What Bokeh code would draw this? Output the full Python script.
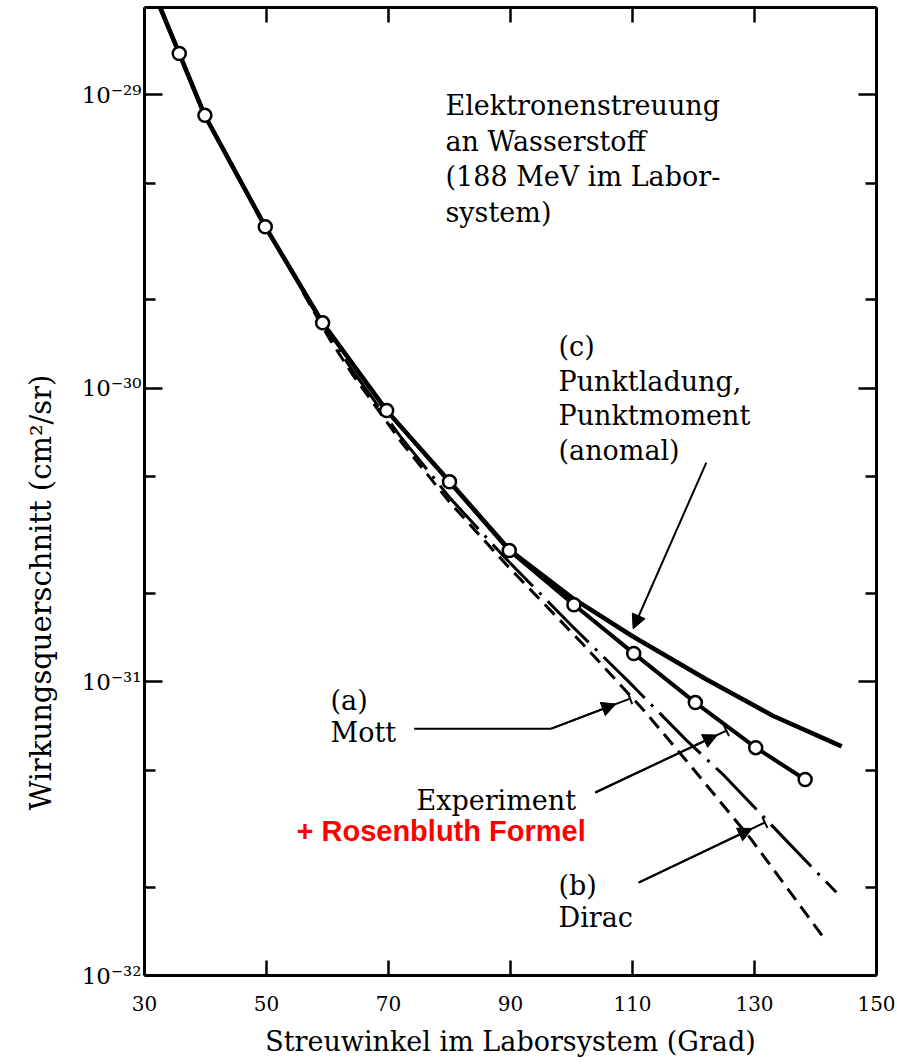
import math
from bokeh.plotting import figure
from bokeh.models import (FixedTicker, LinearAxis, LogAxis, Label, Arrow, Title,
                          NormalHead, TeeHead, CustomJSTickFormatter)
from bokeh.embed import file_html
from bokeh.resources import INLINE

# ---------------- data ----------------
x_ticks = [30, 50, 70, 90, 110, 130, 150]
y_major = [1e-32, 1e-31, 1e-30, 1e-29]
y_minor = [2e-32, 5e-32, 2e-31, 5e-31, 2e-30, 5e-30]

# measured points (open circles)
theta_exp = [35.7, 39.9, 49.8, 59.2, 69.7, 80.0, 89.8, 100.4, 110.2, 120.3, 130.2, 138.3]
sigma_exp = [1.38e-29, 8.5e-30, 3.55e-30, 1.67e-30, 8.4e-31, 4.8e-31, 2.8e-31,
             1.83e-31, 1.25e-31, 8.5e-32, 5.97e-32, 4.65e-32]

# experiment curve (Rosenbluth fit) through the points
theta_fit = [32.0, 35.7, 39.9, 49.8, 59.2, 69.7, 80.0, 89.8, 100.4, 110.2, 120.3, 130.2, 138.3]
sigma_fit = [2.1e-29, 1.38e-29, 8.5e-30, 3.55e-30, 1.67e-30, 8.4e-31, 4.8e-31, 2.8e-31,
             1.83e-31, 1.25e-31, 8.5e-32, 5.97e-32, 4.65e-32]

# (c) point charge, point moment (anomalous)
theta_c = [32.0, 35.7, 39.9, 49.8, 59.2, 69.7, 80.0, 89.8, 100.0, 110.0, 122.0, 133.0, 144.3]
sigma_c = [2.12e-29, 1.38e-29, 8.47e-30, 3.55e-30, 1.67e-30, 8.39e-31, 4.81e-31, 2.82e-31,
           1.94e-31, 1.43e-31, 1.023e-31, 7.67e-32, 6.03e-32]

# (a) Mott
theta_mott = [56.0, 60.3, 64.0, 71.9, 80.2, 89.3, 101.8, 111.9, 118.9, 129.4, 141.7]
sigma_mott = [2.118e-30, 1.476e-30, 1.122e-30, 6.64e-31, 4.05e-31, 2.51e-31, 1.349e-31,
              7.98e-32, 5.37e-32, 2.92e-32, 1.315e-32]

# (b) Dirac
theta_dirac = [56.0, 60.3, 64.0, 71.9, 80.2, 89.3, 100.0, 109.4, 118.9, 125.0, 135.5, 143.4]
sigma_dirac = [2.118e-30, 1.521e-30, 1.156e-30, 6.87e-31, 4.20e-31, 2.62e-31, 1.556e-31,
               1.0e-31, 6.31e-32, 4.80e-32, 2.84e-32, 1.92e-32]

# annotation pointers (start -> tip), data units
arrow_c_x = [122.1, 110.1]
arrow_c_y = [5.58e-31, 1.517e-31]
arrow_mott_x = [74.2, 96.7, 109.6]
arrow_mott_y = [6.93e-32, 6.93e-32, 8.77e-32]
arrow_exp_x = [103.9, 125.4]
arrow_exp_y = [4.20e-32, 6.82e-32]
arrow_dirac_x = [111.0, 131.7]
arrow_dirac_y = [2.07e-32, 3.32e-32]

# ---------------- figure ----------------
SERIF = "DejaVu Serif"

p = figure(width=897, height=1064, x_range=(30, 150), y_range=(1e-32, 1.98e-29),
           y_axis_type="log", output_backend="svg", toolbar_location=None,
           min_border_left=141, min_border_right=21, min_border_top=7, min_border_bottom=89,
           background_fill_color="white", border_fill_color="white")
p.outline_line_color = None
p.xgrid.visible = False
p.ygrid.visible = False

sup_code = """
const e = Math.round(Math.log10(tick));
const sup = {"-":"\u207b","0":"\u2070","1":"\u00b9","2":"\u00b2","3":"\u00b3","4":"\u2074",
             "5":"\u2075","6":"\u2076","7":"\u2077","8":"\u2078","9":"\u2079"};
return "10" + String(e).split("").map(c => sup[c]).join("");
"""
blank = CustomJSTickFormatter(code="return '';")


def style_axis(ax, tick_in, minor_in):
    ax.axis_line_width = 3
    ax.axis_line_color = "black"
    ax.major_tick_in = tick_in
    ax.major_tick_out = 0
    ax.minor_tick_in = minor_in
    ax.minor_tick_out = 0
    ax.major_tick_line_width = 2.5
    ax.minor_tick_line_width = 2.5
    ax.major_label_text_font = SERIF
    ax.major_label_text_color = "black"


xt = FixedTicker(ticks=x_ticks, minor_ticks=[])
yt = FixedTicker(ticks=y_major, minor_ticks=y_minor)

xb = p.xaxis[0]
xb.ticker = xt
style_axis(xb, 15, 0)
xb.major_label_text_font_size = "20px"
xb.major_label_standoff = 20
xb.axis_label = "Streuwinkel im Laborsystem (Grad)"
xb.axis_label_text_font = SERIF
xb.axis_label_text_font_size = "27px"
xb.axis_label_text_font_style = "normal"
xb.axis_label_text_color = "black"
xb.axis_label_standoff = 12

yl = p.yaxis[0]
yl.ticker = yt
style_axis(yl, 18, 11)
yl.formatter = CustomJSTickFormatter(code=sup_code)
yl.major_label_text_font_size = "23px"
yl.major_label_standoff = 3

xtop = LinearAxis(ticker=xt, formatter=blank)
style_axis(xtop, 15, 0)
xtop.major_label_standoff = 0
xtop.major_label_text_font_size = "1px"
p.add_layout(xtop, "above")

yr = LogAxis(ticker=yt, formatter=blank)
style_axis(yr, 18, 11)
yr.major_label_standoff = 0
yr.major_label_text_font_size = "1px"
p.add_layout(yr, "right")

# y-axis title (placed lower than the frame centre, as in the original)
ytitle = Title(text="Wirkungsquerschnitt (cm\u00b2/sr)", align="left", offset=165,
               text_font=SERIF, text_font_size="29px", text_font_style="normal",
               text_color="black", standoff=42)
p.add_layout(ytitle, "left")

# ---------------- curves ----------------
p.line(theta_c, sigma_c, line_width=4.5, color="black")
p.line(theta_fit, sigma_fit, line_width=4, color="black")
p.line(theta_mott, sigma_mott, line_width=3, color="black", line_dash="14 8")
p.line(theta_dirac, sigma_dirac, line_width=3, color="black", line_dash="58 9 3 9")
p.scatter(theta_exp, sigma_exp, marker="circle", size=13, fill_color="white",
          line_color="black", line_width=2.5)

# ---------------- pointers ----------------
def interp(xs, ys, f):
    xm = xs[0] + f * (xs[1] - xs[0])
    ym = 10 ** (math.log10(ys[0]) + f * (math.log10(ys[1]) - math.log10(ys[0])))
    return xm, ym


def pointer(xs, ys, frac, tee=True):
    if tee:
        p.add_layout(Arrow(end=TeeHead(size=12, line_width=2, line_color="black"),
                           x_start=xs[0], y_start=ys[0], x_end=xs[1], y_end=ys[1],
                           line_width=2, line_color="black"))
    xm, ym = interp(xs, ys, frac)
    p.add_layout(Arrow(end=NormalHead(size=14, fill_color="black", line_color="black"),
                       x_start=xs[0], y_start=ys[0], x_end=xm, y_end=ym,
                       line_width=2, line_color="black"))


pointer(arrow_c_x, arrow_c_y, 1.0, tee=False)
p.line(arrow_mott_x[:2], arrow_mott_y[:2], line_width=2, color="black")
pointer(arrow_mott_x[1:], arrow_mott_y[1:], 0.82)
pointer(arrow_exp_x, arrow_exp_y, 0.93)
pointer(arrow_dirac_x, arrow_dirac_y, 0.9)

# ---------------- texts (screen px from frame's bottom-left) ----------------
def txt(s, x, y, size="27px", font=SERIF, color="black", style="normal", **kw):
    p.add_layout(Label(x=x, y=y, x_units="screen", y_units="screen", text=s,
                       text_font=font, text_font_size=size, text_color=color,
                       text_font_style=style, text_baseline="alphabetic", **kw))


for i, line in enumerate(["Elektronenstreuung", "an Wasserstoff",
                          "(188 MeV im Labor-", "system)"]):
    txt(line, 301, 870 - 35.5 * i)

for i, line in enumerate(["(c)", "Punktladung,", "Punktmoment", "(anomal)"]):
    txt(line, 414, 629 - 34.5 * i)

txt("(a)", 186, 275)
txt("Mott", 186, 243)
txt("Experiment", 272, 175)
txt("+ Rosenbluth Formel", 152, 145, size="29px", font="Liberation Sans",
    color="#ff0000", style="bold")
txt("(b)", 414, 90)
txt("Dirac", 414, 58)

open("out.html", "w").write(file_html(p, INLINE))
